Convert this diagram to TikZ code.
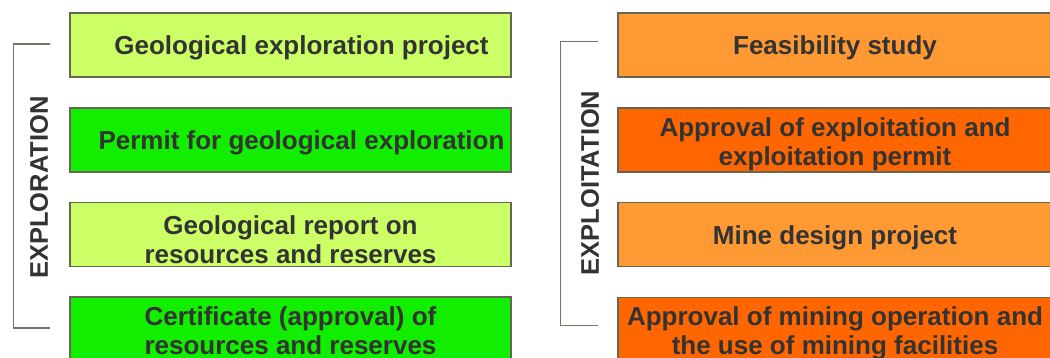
\documentclass[tikz,border=0pt]{standalone}
\usepackage{fontspec}
\setmainfont{Liberation Sans}
\definecolor{lightgreen}{HTML}{CCFF66}
\definecolor{brightgreen}{HTML}{11EE00}
\definecolor{lightorange}{HTML}{FF9933}
\definecolor{darkorange}{HTML}{FF6600}
\definecolor{txtgrey}{HTML}{333333}
\definecolor{edgegrey}{HTML}{666655}
\usetikzlibrary{
  positioning
}

\begin{document}
\begin{tikzpicture}[
  x=1pt, y=-1pt,
  every node/.style = {text=txtgrey, font=\fontsize{26}{29}\selectfont\bfseries},
  stage/.style = {shape=rectangle, draw=edgegrey, line width=1.2pt,
    align=center, inner sep=0pt},
  oneline/.style = {execute at begin node={\rule{0pt}{25pt}}},
  twoline/.style = {text depth=0pt, text height=#1},
  leftstage/.style = {stage, minimum width=441pt, minimum height=64pt},
  rightstage/.style = {stage, minimum width=434pt, minimum height=64pt},
  phase/.style = {rotate=90, font=\fontsize{25.5}{28}\selectfont\bfseries},
  bracket/.style = {draw=edgegrey!90, line width=1.3pt}]
  \useasboundingbox (0,0) rectangle (1050,358);
  \clip (0,0) rectangle (1050,358);
  % exploration
  \node[leftstage, oneline, fill=lightgreen] (gep) at (290.5,45) {\hspace*{22pt}Geological exploration project};
  \node[leftstage, oneline, fill=brightgreen] (pge) at (290.5,140) {\hspace*{22pt}Permit for geological exploration};
  \node[leftstage, twoline=58pt, fill=lightgreen] (grr) at (290.5,234.5) {Geological report on\\resources and reserves};
  \node[leftstage, twoline=50pt, fill=brightgreen] (car) at (290.5,329) {Certificate (approval) of\\resources and reserves};
  % exploitation
  \node[rightstage, oneline, fill=lightorange] (fs) at (835,45) {Feasibility study};
  \node[rightstage, twoline=52pt, fill=darkorange] (aep) at (835,140) {Approval of exploitation and\\exploitation permit};
  \node[rightstage, oneline, fill=lightorange] (mdp) at (835,234.5) {Mine design project};
  \node[rightstage, twoline=49pt, fill=darkorange] (amo) at (835,329.5) {Approval of mining operation and\\the use of mining facilities};
  % brackets
  \draw[bracket] (50,44) -- (13.5,44) -- (13.5,328) -- (50,328);
  \node[phase] (expl) at (39,187.5) {EXPLORATION};
  \draw[bracket] (598,41.5) -- (560.5,41.5) -- (560.5,325.5) -- (598,325.5);
  \node[phase] (expt) at (590,183) {EXPLOITATION};
\end{tikzpicture}
\end{document}
